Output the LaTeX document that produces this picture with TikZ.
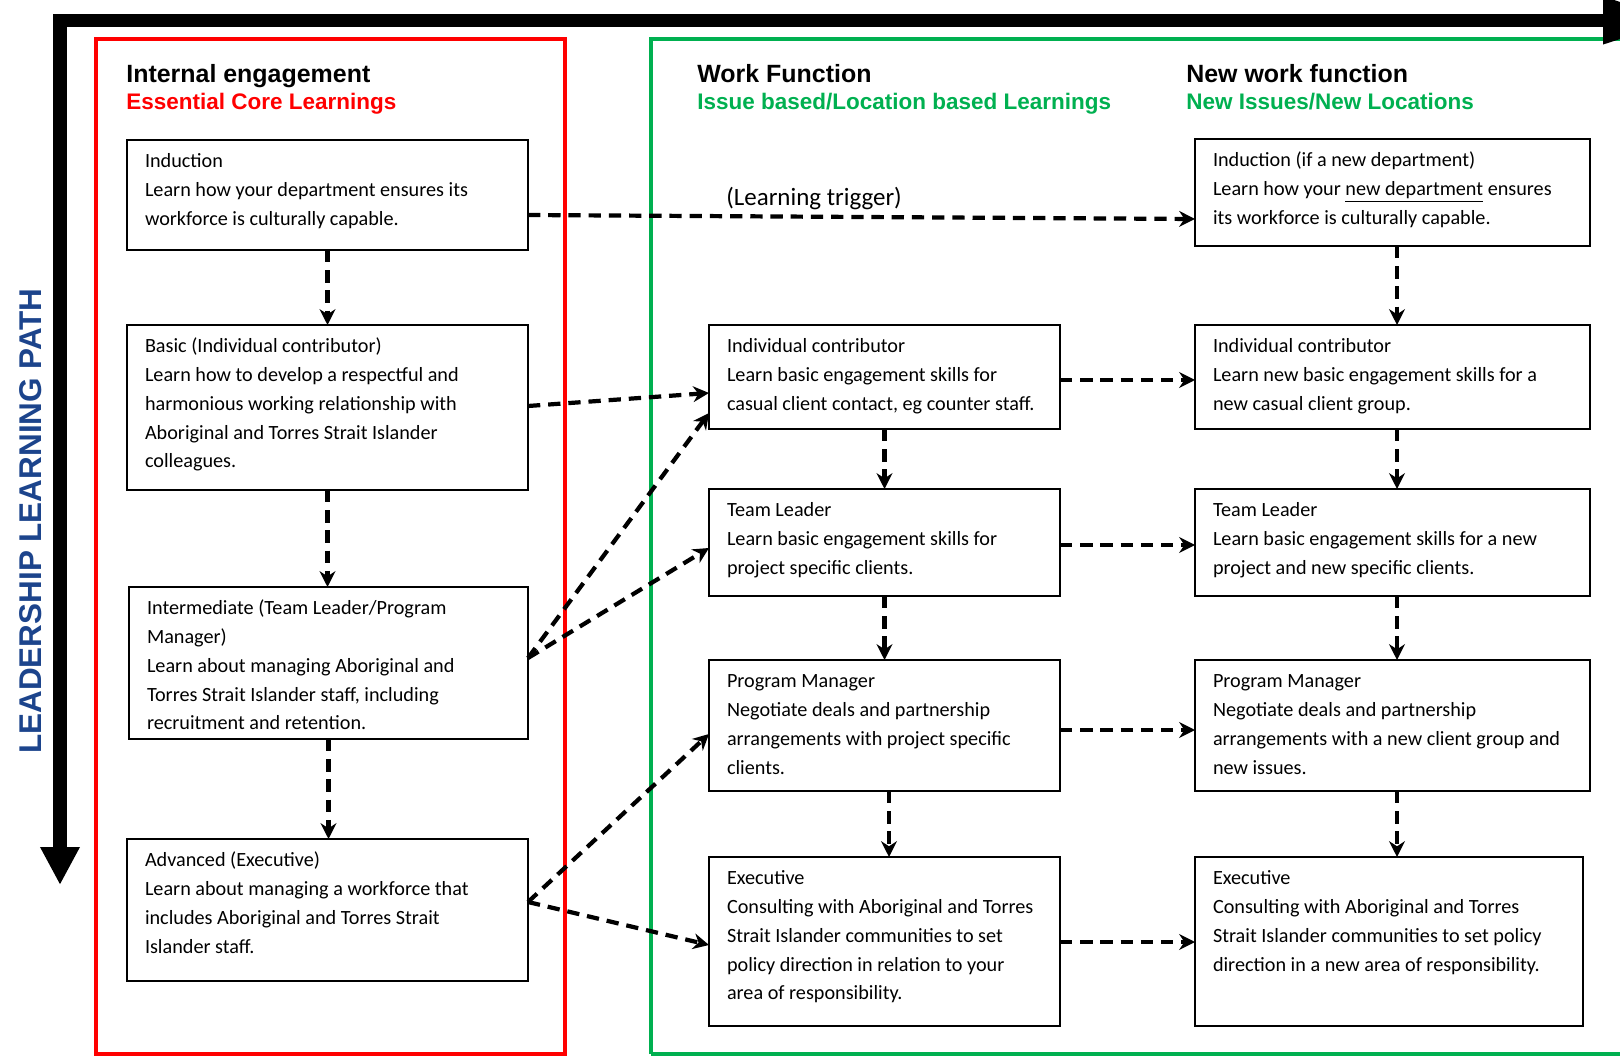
\documentclass[tikz,border=0pt]{standalone}
\usepackage{fontspec}
\setmainfont{Carlito}
\newfontfamily\hdrfont{Liberation Sans}
\usetikzlibrary{arrows.meta,calc}
\definecolor{wgreen}{RGB}{0,176,80}
\definecolor{lblue}{RGB}{28,68,140}
\newdimen\pxu \pxu=0.02cm
\newcommand\bxt[3]{\parbox[c][#2\pxu][t]{#1\pxu}{\fontsize{11.5pt}{16.33pt}\selectfont\raggedright\leftskip=18\pxu\vspace*{4.5pt}\strut#3}}
\tikzset{
  bx/.style={draw, line width=1.1pt, inner sep=0pt, outer sep=0pt, anchor=north west},
  conn/.style={line width=2.4pt, dash pattern=on 7pt off 4.5pt, -{Stealth[length=9pt,width=9pt]}},
  ttl/.style={anchor=base west, inner sep=0pt, font=\hdrfont\bfseries\fontsize{14.2pt}{17pt}\selectfont},
  sub/.style={anchor=base west, inner sep=0pt, font=\hdrfont\bfseries\fontsize{12.8pt}{15pt}\selectfont}
}
\begin{document}
\begin{tikzpicture}[x=0.02cm,y=-0.02cm]
\useasboundingbox (0,0) rectangle (1620,1057);
% frames
\draw[red, line width=2.3pt] (96,39) rectangle (565,1054);
\draw[wgreen, line width=2.3pt] (651,1054) -- (651,39) -- (1640,39);
\draw[wgreen, line width=2.3pt] (651,1054) -- (1640,1054);
% big L arrow
\draw[line width=7.4pt, line join=miter, {Triangle[length=0.76cm,width=0.74cm]}-{Triangle[length=1.54cm,width=0.88cm]}] (60,885) -- (60,20.5) -- (1680,20.5);
\node[rotate=90, text=lblue, font=\hdrfont\bfseries\fontsize{17.9pt}{20pt}\selectfont, inner sep=0pt] (lp) at (31,521) {LEADERSHIP LEARNING PATH};
% headers
\node[ttl] (h1) at (126,83) {Internal engagement};
\node[sub, text=red] (s1) at (126,110) {Essential Core Learnings};
\node[ttl] (h2) at (697,83) {Work Function};
\node[sub, text=wgreen] (s2) at (697,110) {Issue based/Location based Learnings};
\node[ttl] (h3) at (1186,83) {New work function};
\node[sub, text=wgreen] (s3) at (1186,110) {New Issues/New Locations};
% left column
\node[bx] (b1) at (127,140) {\bxt{401}{110}{Induction\\Learn how your department ensures its\\workforce is culturally capable.}};
\node[bx] (b2) at (127,325) {\bxt{401}{165}{Basic (Individual contributor)\\Learn how to develop a respectful and\\harmonious working relationship with\\Aboriginal and Torres Strait Islander\\colleagues.}};
\node[bx] (b3) at (129,587) {\bxt{399}{152}{Intermediate (Team Leader/Program\\Manager)\\Learn about managing Aboriginal and\\Torres Strait Islander staff, including\\recruitment and retention.}};
\node[bx] (b4) at (127,839) {\bxt{401}{142}{Advanced (Executive)\\Learn about managing a workforce that\\includes Aboriginal and Torres Strait\\Islander staff.}};
% middle column
\node[bx] (m1) at (709,325) {\bxt{351}{104}{Individual contributor\\Learn basic engagement skills for\\casual client contact, eg counter staff.}};
\node[bx] (m2) at (709,489) {\bxt{351}{107}{Team Leader\\Learn basic engagement skills for\\project specific clients.}};
\node[bx] (m3) at (709,660) {\bxt{351}{131}{Program Manager\\Negotiate deals and partnership\\arrangements with project specific\\clients.}};
\node[bx] (m4) at (709,857) {\bxt{351}{169}{Executive\\Consulting with Aboriginal and Torres\\Strait Islander communities to set\\policy direction in relation to your\\area of responsibility.}};
% right column
\node[bx] (r0) at (1195,139) {\bxt{395}{107}{Induction (if a new department)\\Learn how your \underline{new department} ensures\\its workforce is culturally capable.}};
\node[bx] (r1) at (1195,325) {\bxt{395}{104}{Individual contributor\\Learn new basic engagement skills for a\\new casual client group.}};
\node[bx] (r2) at (1195,489) {\bxt{395}{107}{Team Leader\\Learn basic engagement skills for a new\\project and new specific clients.}};
\node[bx] (r3) at (1195,660) {\bxt{395}{131}{Program Manager\\Negotiate deals and partnership\\arrangements with a new client group and\\new issues.}};
\node[bx] (r4) at (1195,857) {\bxt{388}{169}{Executive\\Consulting with Aboriginal and Torres\\Strait Islander communities to set policy\\direction in a new area of responsibility.}};
% learning trigger
\node[anchor=base west, inner sep=0pt, font=\fontsize{14.2pt}{17pt}\selectfont] (lt) at (726,206) {(Learning trigger)};
\draw[conn] (b1.east |- 0,215) -- (r0.west |- 0,219);
% left verticals
\draw[conn] (b1.south) -- (b2.north);
\draw[conn] (b2.south) -- (b2.south |- b3.north);
\draw[conn] (b3.south) -- (b3.south |- b4.north);
% left to middle
\draw[conn] (b2.east |- 0,406) -- (m1.west |- 0,393);
\draw[conn] (b3.east |- 0,658) -- (m1.west |- 0,413);
\draw[conn] (b3.east |- 0,658) -- (m2.west |- 0,548);
\draw[conn] (b4.east |- 0,902) -- (m3.west |- 0,734);
\draw[conn] (b4.east |- 0,902) -- (m4.west |- 0,945);
% middle verticals
\draw[conn] (m1.south) -- (m2.north);
\draw[conn] (m2.south) -- (m3.north);
\draw[conn] (889,0 |- m3.south) -- (889,0 |- m4.north);
% right verticals
\draw[conn] (1397,0 |- r0.south) -- (1397,0 |- r1.north);
\draw[conn] (1397,0 |- r1.south) -- (1397,0 |- r2.north);
\draw[conn] (1397,0 |- r2.south) -- (1397,0 |- r3.north);
\draw[conn] (1397,0 |- r3.south) -- (1397,0 |- r4.north);
% middle to right
\draw[conn] (m1.east |- 0,380) -- (r1.west |- 0,380);
\draw[conn] (m2.east |- 0,545) -- (r2.west |- 0,545);
\draw[conn] (m3.east |- 0,730) -- (r3.west |- 0,730);
\draw[conn] (m4.east |- 0,942) -- (r4.west |- 0,942);
\end{tikzpicture}
\end{document}
